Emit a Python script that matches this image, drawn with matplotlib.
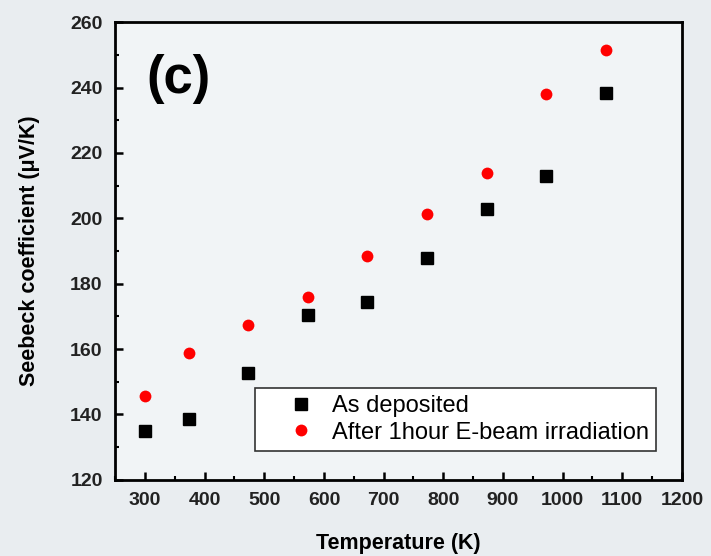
import matplotlib.pyplot as plt
from matplotlib.ticker import MultipleLocator

# temperaturas (K)
temperatura = [300, 373, 473, 573, 673, 773, 873, 973, 1073]
as_deposited = [134.9, 138.5, 152.7, 170.4, 174.5, 187.8, 202.9, 213.1, 238.2]
after_ebeam = [145.8, 158.9, 167.3, 175.8, 188.5, 201.3, 214.0, 237.9, 251.5]

plt.rcParams['font.family'] = ['Liberation Sans', 'DejaVu Sans']

fig = plt.figure(figsize=(7.11, 5.56), dpi=100)
fig.patch.set_facecolor('#e9edf0')
ax = fig.add_axes([0.162, 0.137, 0.797, 0.823])
ax.set_facecolor('#f1f4f6')

ax.plot(temperatura, as_deposited, 's', color='black', markersize=8, label='As deposited')
ax.plot(temperatura, after_ebeam, 'o', color='red', markersize=8.5, markeredgewidth=0,
        label='After 1hour E-beam irradiation')

ax.set_xlim(250, 1200)
ax.set_ylim(120, 260)
ax.xaxis.set_major_locator(MultipleLocator(100))
ax.xaxis.set_minor_locator(MultipleLocator(50))
ax.yaxis.set_major_locator(MultipleLocator(20))
ax.yaxis.set_minor_locator(MultipleLocator(10))
ax.tick_params(which='major', direction='in', length=6, width=1.8, labelsize=14, pad=9)
ax.tick_params(which='minor', direction='in', length=3, width=1.5)
for lab in ax.get_xticklabels() + ax.get_yticklabels():
    lab.set_fontweight('bold')
    lab.set_color('#222222')
for sp in ax.spines.values():
    sp.set_linewidth(2)

ax.set_xlabel('Temperature (K)', fontsize=15.5, fontweight='heavy', labelpad=17)
ax.set_ylabel('Seebeck coefficient (\u03bcV/K)', fontsize=15.5, fontweight='heavy', labelpad=22)

ax.text(0.055, 0.93, '(c)', transform=ax.transAxes, fontsize=38, fontweight='bold',
        va='top', ha='left')

leg = ax.legend(loc='lower right', bbox_to_anchor=(0.975, 0.038), fontsize=17,
                frameon=True, fancybox=False, edgecolor='#333333', framealpha=1,
                handlelength=3.3, handletextpad=-0.35, borderpad=0.3, labelspacing=0.2)
leg.get_frame().set_linewidth(1.2)

fig.savefig('out.png', dpi=100, facecolor=fig.get_facecolor())
